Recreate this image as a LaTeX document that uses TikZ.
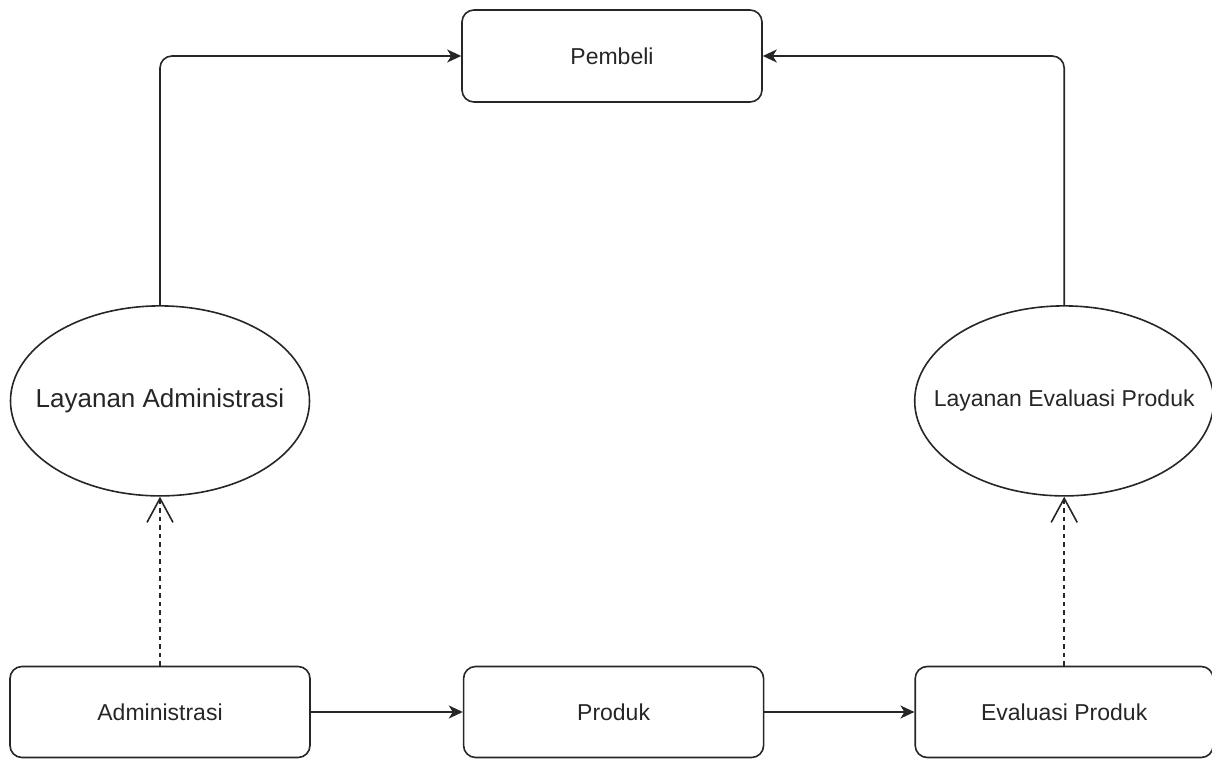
\documentclass[tikz,border=0pt]{standalone}
\usepackage{fontspec}
\setmainfont{Liberation Sans}
\usetikzlibrary{arrows.meta, positioning, shapes.geometric}
\tikzset{
  unitbox/.style={
    rectangle, rounded corners=12pt, draw=black!85, line width=1.6pt,
    minimum width=300pt, minimum height=91pt,
    font=\fontsize{23}{27}\selectfont, text=black!85
  },
  svcnode/.style={
    ellipse, draw=black!85, line width=1.6pt, inner sep=0pt,
    minimum width=299pt, minimum height=190pt
  },
  flow/.style={-{Stealth[length=14pt,width=13pt,inset=4pt]}, line width=1.6pt, black!85},
  realize/.style={-{Straight Barb[length=24pt,width=26pt]}, line width=1.6pt,
    dash pattern=on 4.5pt off 4pt, black!85},
}

\begin{document}
\begin{tikzpicture}[x=1pt,y=1pt]
  \useasboundingbox (0,0) rectangle (1212,758);

  % bottom row
  \node[unitbox] (adm) at (160,46) {Administrasi};
  \node[unitbox, right=152pt of adm] (prod) {Produk};
  \node[unitbox, right=150pt of prod, minimum width=298pt] (eval) {Evaluasi Produk};

  % services
  \node[svcnode, above=169pt of adm,
        label={[font=\fontsize{26}{30}\selectfont, text=black!85]center:Layanan Administrasi}] (lsadm) {};
  \node[svcnode, above=169pt of eval,
        label={[font=\fontsize{23}{27}\selectfont, text=black!85]center:Layanan Evaluasi Produk}] (lseval) {};

  % top
  \node[unitbox, minimum height=92pt] (buyer) at (612,702) {Pembeli};

  % arrows
  \draw[flow] (adm) -- (prod);
  \draw[flow] (prod) -- (eval);
  \draw[realize] (adm) -- (lsadm);
  \draw[realize] (eval.north) -- (lseval.south);
  \draw[flow, rounded corners=12pt] (lsadm.north) |- (buyer.west);
  \draw[flow, rounded corners=12pt] (lseval.north) |- (buyer.east);

\end{tikzpicture}
\end{document}
